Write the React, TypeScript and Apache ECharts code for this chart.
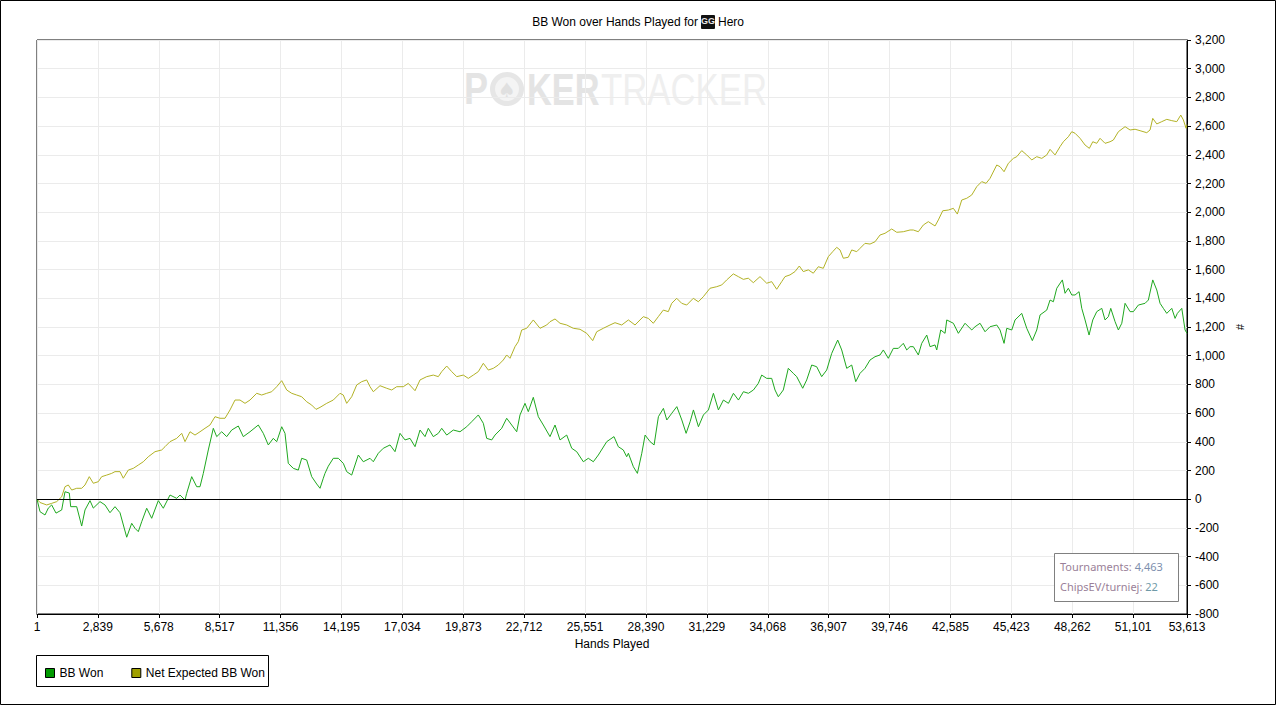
import React, { useEffect, useRef } from "react";
import * as echarts from "echarts";

const FONT = '"Liberation Sans", Arial, sans-serif';

const xTickValues = [1, 2839, 5678, 8517, 11356, 14195, 17034, 19873, 22712, 25551, 28390, 31229, 34068, 36907, 39746, 42585, 45423, 48262, 51101, 53613];
const yMin = -800;
const yMax = 3200;
const yStep = 200;
const seriesNames = ["BB Won", "Net Expected BB Won"];
const statsLabels = ["Tournaments: ", "ChipsEV/turniej: "];
const statsValues = ["4,463", "22"];

const bbWon: [number, number][] = [
  [1, 0], [141, -87], [374, -110], [528, -62], [686, -40], [887, -97], [1152, -75], [1306, 52], [1507, 43], [1572, -52],
  [1852, -52], [2085, -187], [2239, -75], [2472, -10], [2626, -62], [2938, -17], [3171, -40], [3404, -94], [3637, -52], [3870, -94],
  [4183, -265], [4416, -168], [4570, -203], [4724, -226], [4882, -157], [5115, -63], [5348, -133], [5656, -10], [5889, -63], [6201, 29],
  [6514, 6], [6668, 29], [6901, -6], [6980, 41], [7213, 157], [7446, 87], [7600, 87], [7754, 180], [7987, 343], [8220, 494],
  [8379, 436], [8612, 470], [8845, 436], [9078, 482], [9386, 510], [9619, 436], [9931, 470], [10318, 517], [10551, 459], [10784, 378],
  [11017, 424], [11176, 401], [11409, 505], [11563, 459], [11716, 250], [11950, 215], [12183, 203], [12341, 285], [12574, 273], [12808, 157],
  [13041, 106], [13195, 76], [13348, 146], [13427, 180], [13581, 230], [13814, 285], [14048, 285], [14281, 250], [14439, 192], [14672, 168],
  [14980, 308], [15213, 261], [15526, 285], [15680, 261], [15913, 320], [16146, 355], [16458, 378], [16691, 331], [16924, 459], [17157, 413],
  [17390, 424], [17624, 366], [17857, 482], [18090, 436], [18244, 494], [18477, 436], [18710, 459], [18869, 494], [19102, 447], [19409, 482],
  [19721, 470], [20034, 505], [20267, 540], [20575, 587], [20808, 529], [20966, 424], [21199, 413], [21353, 447], [21665, 494], [21898, 564],
  [22131, 517], [22365, 470], [22518, 587], [22751, 668], [22905, 610], [23138, 710], [23372, 575], [23605, 517], [23917, 436], [24150, 517],
  [24384, 413], [24696, 447], [24929, 355], [25162, 331], [25470, 261], [25703, 285], [25937, 261], [26170, 308], [26562, 401], [26900, 436],
  [27101, 366], [27334, 343], [27492, 296], [27571, 320], [27804, 226], [27991, 180], [28196, 320], [28350, 447], [28583, 401], [28770, 378],
  [28970, 575], [29204, 633], [29362, 552], [29595, 599], [29828, 645], [30062, 552], [30262, 459], [30449, 540], [30603, 622], [30836, 505],
  [31069, 587], [31302, 622], [31535, 738], [31768, 622], [32001, 691], [32235, 668], [32468, 738], [32701, 691], [32934, 749], [33167, 738],
  [33400, 761], [33627, 807], [33786, 865], [34019, 842], [34252, 842], [34406, 761], [34560, 714], [34793, 761], [35026, 912], [35259, 877],
  [35418, 854], [35698, 773], [35884, 831], [36117, 935], [36350, 923], [36583, 854], [36816, 900], [37050, 1016], [37329, 1109], [37516, 1040],
  [37749, 912], [37982, 935], [38169, 819], [38369, 877], [38602, 912], [38836, 970], [39069, 993], [39302, 1005], [39456, 1040], [39689, 982],
  [39922, 1051], [40155, 1051], [40388, 1086], [40547, 1040], [40701, 1063], [40855, 1063], [41088, 1005], [41246, 1086], [41480, 1144], [41634, 1063],
  [41867, 1075], [41946, 1040], [42133, 1179], [42333, 1156], [42413, 1249], [42721, 1226], [42954, 1156], [43266, 1226], [43578, 1179], [43732, 1202],
  [43965, 1226], [44198, 1167], [44431, 1202], [44743, 1214], [44897, 1179], [45084, 1086], [45210, 1191], [45443, 1179], [45597, 1249], [45909, 1295],
  [46142, 1191], [46403, 1105], [46609, 1179], [46763, 1284], [47075, 1318], [47229, 1388], [47383, 1376], [47542, 1470], [47803, 1528], [47928, 1435],
  [48082, 1470], [48241, 1423], [48394, 1423], [48581, 1446], [48707, 1330], [48861, 1249], [49047, 1144], [49220, 1249], [49406, 1307], [49640, 1330],
  [49793, 1249], [49947, 1272], [50059, 1330], [50260, 1237], [50414, 1179], [50573, 1226], [50726, 1365], [50959, 1307], [51113, 1307], [51346, 1353],
  [51658, 1365], [51812, 1388], [52017, 1528], [52204, 1458], [52357, 1365], [52511, 1330], [52670, 1295], [52903, 1330], [53057, 1260], [53164, 1295],
  [53369, 1330], [53523, 1179], [53613, 1156],
];

const netExpected: [number, number][] = [
  [1, 0], [141, -23], [453, -40], [686, -29], [919, -17], [1152, 17], [1306, 87], [1460, 99], [1619, 64], [1852, 76],
  [2085, 76], [2239, 99], [2439, 157], [2626, 111], [2859, 122], [3017, 157], [3250, 168], [3484, 180], [3637, 192], [3870, 192],
  [4024, 146], [4257, 203], [4490, 215], [4724, 238], [4957, 261], [5190, 296], [5502, 331], [5815, 343], [5969, 366], [6201, 401],
  [6514, 424], [6747, 459], [6901, 401], [7134, 470], [7367, 447], [7600, 470], [7833, 494], [8066, 517], [8299, 575], [8532, 564],
  [8766, 564], [8999, 622], [9232, 691], [9465, 691], [9698, 668], [9931, 691], [10243, 738], [10476, 726], [10710, 738], [10943, 749],
  [11176, 784], [11409, 826], [11642, 761], [11875, 738], [12108, 726], [12341, 714], [12574, 679], [12808, 656], [13008, 626], [13195, 640],
  [13507, 668], [13814, 691], [14127, 738], [14281, 726], [14439, 668], [14672, 714], [14905, 796], [15138, 819], [15371, 831], [15526, 784],
  [15680, 749], [15992, 791], [16304, 773], [16537, 761], [16770, 784], [17078, 784], [17311, 807], [17624, 756], [17857, 831], [18169, 854],
  [18477, 865], [18710, 854], [18869, 889], [19102, 928], [19335, 889], [19568, 854], [19875, 865], [20108, 842], [20341, 865], [20575, 889],
  [20808, 947], [21041, 900], [21274, 912], [21507, 935], [21740, 970], [21898, 1005], [22052, 982], [22285, 1063], [22439, 1098], [22597, 1179],
  [22830, 1191], [23138, 1249], [23451, 1191], [23763, 1214], [23917, 1237], [24150, 1256], [24384, 1226], [24696, 1214], [25003, 1191], [25316, 1184],
  [25628, 1156], [25908, 1105], [26094, 1167], [26402, 1191], [26714, 1214], [26948, 1230], [27260, 1214], [27571, 1249], [27880, 1214], [28266, 1272],
  [28500, 1260], [28733, 1226], [28966, 1272], [29199, 1318], [29432, 1307], [29591, 1365], [29824, 1400], [30057, 1365], [30290, 1353], [30598, 1400],
  [30831, 1376], [31064, 1411], [31377, 1470], [31689, 1481], [31922, 1493], [32155, 1528], [32463, 1570], [32696, 1551], [32929, 1532], [33162, 1540],
  [33396, 1509], [33707, 1551], [34019, 1505], [34252, 1516], [34485, 1463], [34718, 1516], [34872, 1551], [35105, 1563], [35338, 1586], [35539, 1625],
  [35725, 1586], [35959, 1598], [36192, 1575], [36425, 1620], [36658, 1609], [36891, 1690], [37096, 1725], [37283, 1755], [37437, 1737], [37591, 1679],
  [37824, 1686], [37982, 1737], [38215, 1725], [38369, 1748], [38602, 1783], [38836, 1778], [39069, 1794], [39302, 1841], [39535, 1853], [39847, 1883],
  [40081, 1860], [40388, 1864], [40701, 1876], [40855, 1876], [41088, 1864], [41321, 1911], [41554, 1934], [41867, 1904], [42021, 1946], [42226, 2010],
  [42487, 2015], [42721, 2027], [42907, 1987], [43112, 2085], [43345, 2097], [43578, 2120], [43811, 2178], [44044, 2213], [44245, 2201], [44431, 2236],
  [44743, 2329], [44897, 2317], [45084, 2282], [45285, 2341], [45518, 2375], [45677, 2387], [45909, 2429], [46142, 2399], [46376, 2364], [46609, 2387],
  [46842, 2375], [47075, 2399], [47229, 2438], [47462, 2399], [47695, 2457], [47849, 2491], [48082, 2526], [48241, 2561], [48394, 2550], [48627, 2515],
  [48861, 2468], [49061, 2445], [49220, 2491], [49406, 2480], [49560, 2515], [49793, 2480], [50026, 2491], [50180, 2503], [50414, 2561], [50726, 2596],
  [50959, 2573], [51192, 2578], [51425, 2568], [51737, 2554], [51891, 2573], [52017, 2654], [52204, 2615], [52437, 2631], [52670, 2647], [52903, 2638],
  [53136, 2631], [53323, 2677], [53444, 2643], [53570, 2585], [53613, 2610],
];

const fmt = (v: number) => Math.round(v).toLocaleString("en-US");

export default function App() {
  const ref = useRef<HTMLDivElement>(null);

  useEffect(() => {
    document.body.style.margin = "0";
    if (!ref.current) return;
    const chart = echarts.init(ref.current, undefined, { renderer: "svg" });

    const wmStyle = { fontFamily: FONT, fontSize: 44 };
    const option: any = {
      animation: false,
      backgroundColor: "#fff",
      grid: {
        left: 37, right: 89, top: 40, bottom: 91,
        show: true, borderColor: "#000", borderWidth: 1,
        containLabel: false, outerBoundsMode: "none",
      },
      legend: {
        left: 40, top: 662, itemWidth: 9, itemHeight: 9, itemGap: 28, icon: "rect",
        textStyle: { fontSize: 12, fontFamily: FONT, color: "#000" },
        data: [
          { name: seriesNames[0], itemStyle: { color: "#009a00", borderColor: "#000", borderWidth: 1 } },
          { name: seriesNames[1], itemStyle: { color: "#a0a000", borderColor: "#000", borderWidth: 1 } },
        ],
      },
      xAxis: {
        type: "value", min: 1, max: 53613,
        name: "Hands Played", nameLocation: "middle", nameGap: 24,
        nameTextStyle: { color: "#000", fontSize: 12, fontFamily: FONT },
        axisLine: { show: true, onZero: false, lineStyle: { color: "#000", width: 1 } },
        axisTick: { show: true, customValues: xTickValues, length: 4, lineStyle: { color: "#000" } },
        axisLabel: {
          customValues: xTickValues, formatter: fmt, color: "#000", fontSize: 12, fontFamily: FONT,
          margin: 7, showMinLabel: true, showMaxLabel: true, hideOverlap: false,
        },
        splitLine: { show: true, lineStyle: { color: "#ebebeb", width: 1 } },
      },
      yAxis: {
        type: "value", position: "right", min: yMin, max: yMax, interval: yStep,
        axisLine: { show: true, onZero: false, lineStyle: { color: "#000", width: 1 } },
        axisTick: { show: true, length: 4, lineStyle: { color: "#000" } },
        axisLabel: { formatter: fmt, color: "#000", fontSize: 12, fontFamily: FONT, margin: 8 },
        splitLine: { show: true, lineStyle: { color: "#ebebeb", width: 1 } },
      },
      graphic: [
        { type: "rect", silent: true, z: 100, shape: { x: 0.5, y: 0.5, width: 1275, height: 704 }, style: { fill: "none", stroke: "#000", lineWidth: 1 } },
        // title
        { type: "text", x: 698, y: 22, style: { text: "BB Won over Hands Played for", textAlign: "right", textVerticalAlign: "middle", fontFamily: FONT, fontSize: 12, fill: "#000" } },
        { type: "rect", x: 701, y: 15, shape: { width: 14, height: 14, r: 1 }, style: { fill: "#111" } },
        { type: "text", x: 708, y: 21, style: { text: "GG", textAlign: "center", textVerticalAlign: "middle", fontFamily: FONT, fontSize: 9, fontWeight: "bold", fill: "#e8e8e8" } },
        { type: "text", x: 718, y: 22, style: { text: "Hero", textAlign: "left", textVerticalAlign: "middle", fontFamily: FONT, fontSize: 12, fill: "#000" } },
        // watermark
        { type: "text", x: 464, y: 89, scaleX: 0.82, style: { ...wmStyle, text: "P", fontWeight: "bold", fill: "#e4e4e4", textVerticalAlign: "middle" } },
        { type: "circle", shape: { cx: 507, cy: 89, r: 17 }, style: { fill: "#e6e6e6" } },
        { type: "circle", shape: { cx: 507, cy: 89, r: 12 }, style: { fill: "#f4f4f4" } },
        { type: "text", x: 507, y: 90, style: { text: "♠", textAlign: "center", textVerticalAlign: "middle", fontSize: 20, fontFamily: '"DejaVu Sans", sans-serif', fill: "#e0e0e0" } },
        { type: "text", x: 527, y: 89, scaleX: 0.78, style: { ...wmStyle, text: "KER", fontWeight: "bold", fill: "#e4e4e4", textVerticalAlign: "middle" } },
        { type: "text", x: 601, y: 89, scaleX: 0.79, style: { ...wmStyle, text: "TRACKER", fill: "#efefef", textVerticalAlign: "middle" } },
        // y name
        { type: "text", x: 1240, y: 327, rotation: -Math.PI / 2, style: { text: "#", textAlign: "center", textVerticalAlign: "middle", fontFamily: FONT, fontSize: 11, fill: "#000" } },
        // legend box
        { type: "rect", shape: { x: 36.5, y: 655.5, width: 232, height: 31 }, style: { fill: "none", stroke: "#000", lineWidth: 1 } },
        // stats box
        { type: "rect", z: 50, shape: { x: 1054.5, y: 553.5, width: 124, height: 48 }, style: { fill: "#fff", stroke: "#808080", lineWidth: 1 } },
        {
          type: "text", z: 51, x: 1060, y: 566,
          style: {
            text: `{l|${statsLabels[0]}}{v|${statsValues[0]}}`, textVerticalAlign: "middle",
            rich: { l: { fontFamily: '"Noto Sans", sans-serif', fontSize: 11, fill: "#9a7f98" }, v: { fontFamily: '"Noto Sans", sans-serif', fontSize: 11, fill: "#7d8fae" } },
          },
        },
        {
          type: "text", z: 51, x: 1060, y: 586,
          style: {
            text: `{l|${statsLabels[1]}}{v|${statsValues[1]}}`, textVerticalAlign: "middle",
            rich: { l: { fontFamily: '"Noto Sans", sans-serif', fontSize: 11, fill: "#9a7f98" }, v: { fontFamily: '"Noto Sans", sans-serif', fontSize: 11, fill: "#6f9aa8" } },
          },
        },
      ],
      series: [
        {
          name: seriesNames[0], type: "line", data: bbWon, showSymbol: false, symbol: "none",
          lineStyle: { color: "#1fa81f", width: 1 }, itemStyle: { color: "#009a00" }, z: 3,
          markLine: {
            silent: true, symbol: ["none", "none"], label: { show: false },
            lineStyle: { color: "#000", width: 1, type: "solid" },
            data: [{ yAxis: 0 }],
          },
        },
        {
          name: seriesNames[1], type: "line", data: netExpected, showSymbol: false, symbol: "none",
          lineStyle: { color: "#b2b226", width: 1 }, itemStyle: { color: "#a0a000" }, z: 2,
        },
      ],
    };
    chart.setOption(option);
    return () => chart.dispose();
  }, []);

  return <div ref={ref} style={{ width: 1276, height: 705 }} />;
}
